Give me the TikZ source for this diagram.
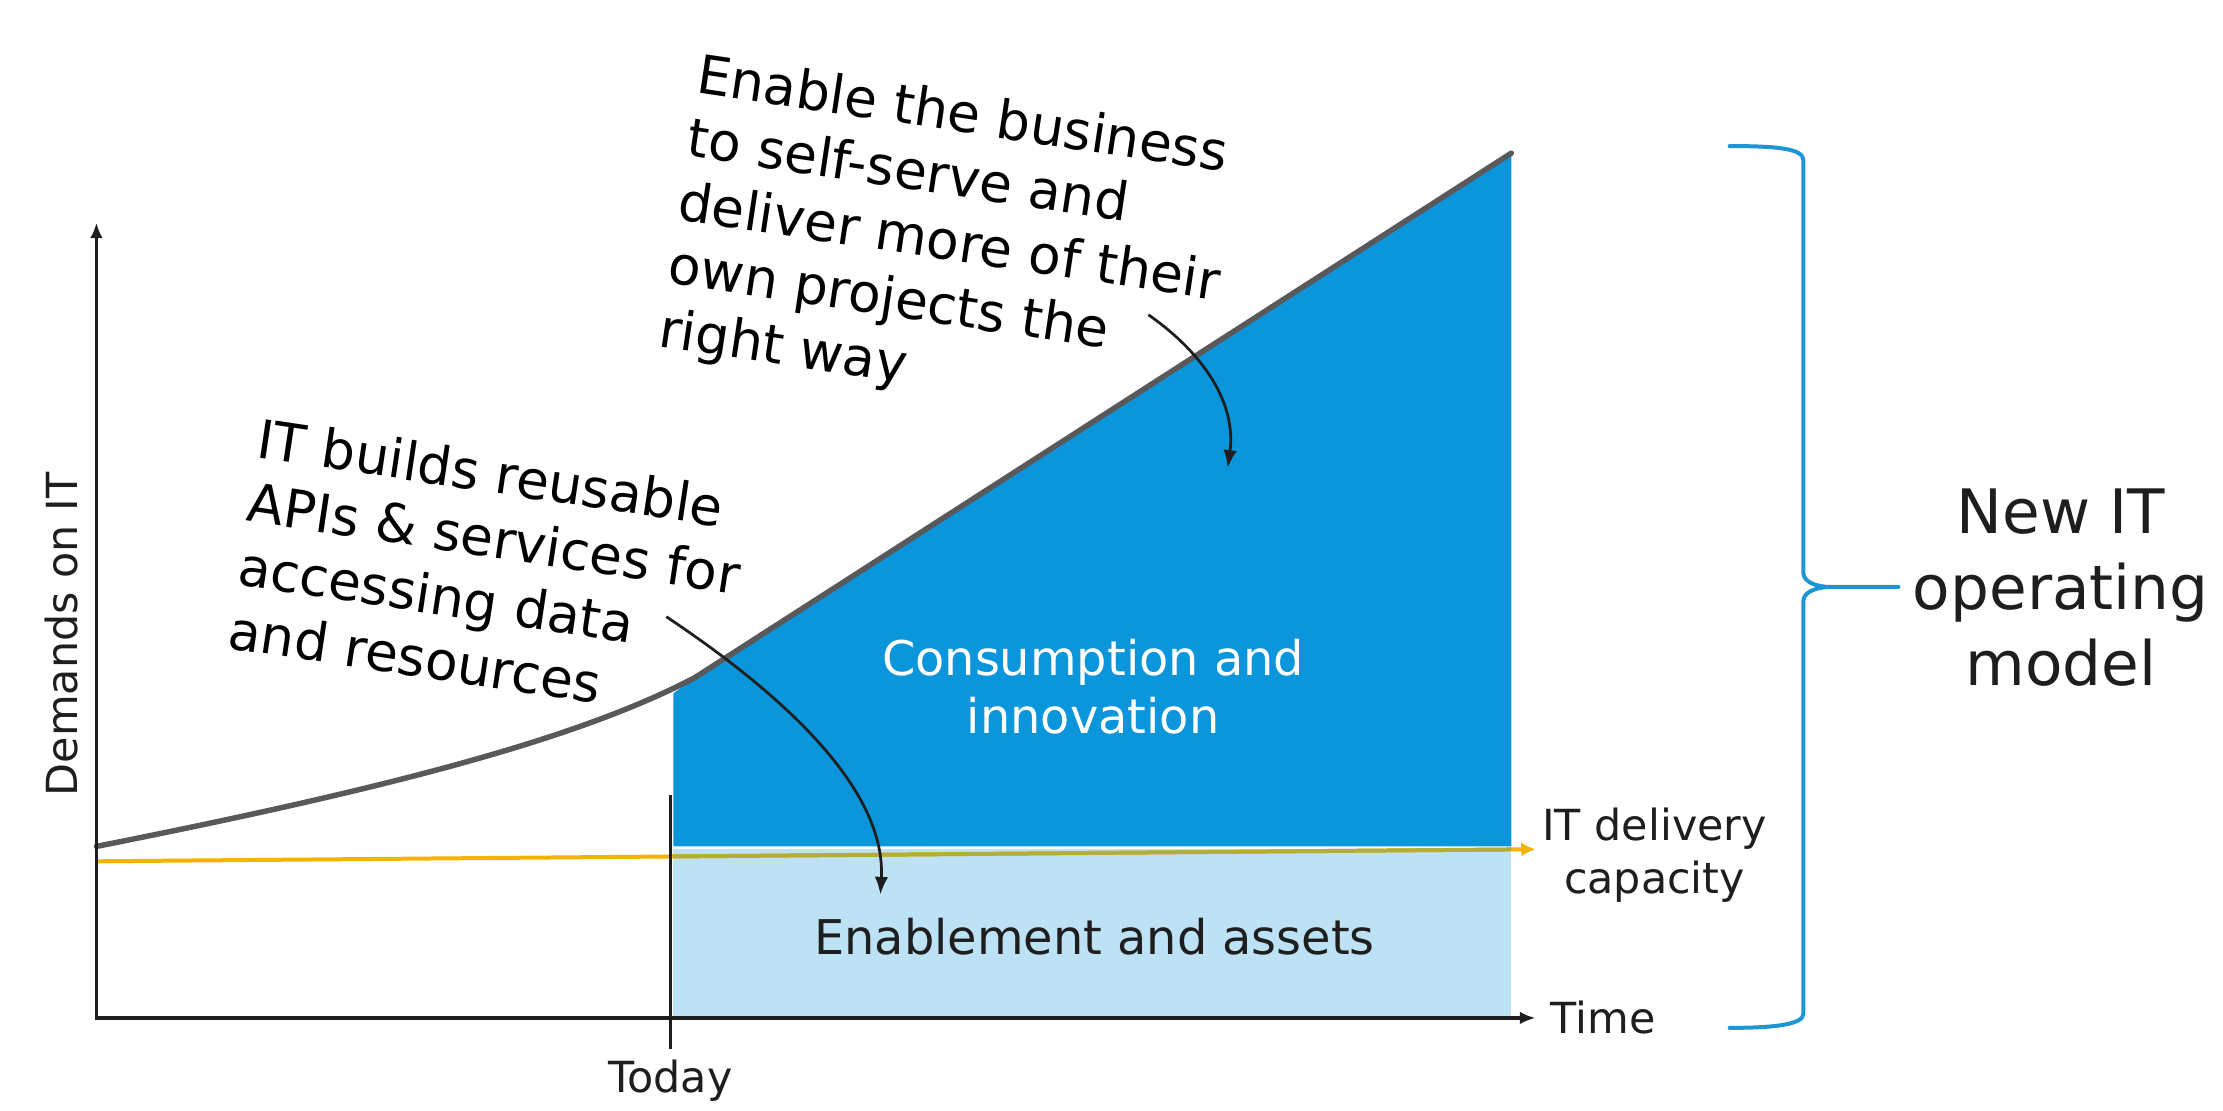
\documentclass[tikz,border=0pt]{standalone}
\usepackage{fontspec}
\setmainfont{DejaVu Sans}
\usepackage{tikz}
\usetikzlibrary{arrows.meta,positioning}
\definecolor{Azul}{HTML}{0B95DA}
\definecolor{AzulClaro}{HTML}{BDE2F5}
\definecolor{AzulLlave}{HTML}{1E96D6}
\definecolor{Amarillo}{HTML}{F3B300}
\definecolor{Oliva}{HTML}{B3AD3A}
\definecolor{GrisCurva}{HTML}{59595B}
\definecolor{Tinta}{HTML}{1E1E1E}

\begin{document}
\begin{tikzpicture}[
  x=0.1mm, y=-0.1mm,
  etiqueta/.style={text=Tinta,inner sep=0pt,align=center,
    font=\fontsize{8.6}{10.7}\selectfont},
  zona/.style={inner sep=0pt,align=center,font=\fontsize{9.6}{11.6}\selectfont},
  nota/.style={text=black,inner sep=0pt,align=left,rotate=-8.5,anchor=north west,
    font=\fontsize{10.7}{12.9}\selectfont},
  eje/.style={line width=0.7pt,Tinta},
  flecha/.style={-{Latex[length=1.25mm,width=0.95mm]},line width=0.55pt,Tinta},
  llave/.style={AzulLlave,line width=0.8pt,line cap=round,line join=round}
]
  \useasboundingbox (0,0) rectangle (1568,783);

  % Areas under the demand curve, right of today.
  \fill[AzulClaro] (475,599) rectangle (1066,718);
  \fill[Azul] (475,597) -- (475,489) -- (490,478) -- (1066,108) -- (1066,597) -- cycle;

  % Demand curve.
  \draw[GrisCurva,line width=1.1pt,line cap=round]
    (68,597) .. controls (280,555) and (410,520) .. (490,478) -- (1066,108);

  % IT delivery capacity, olive where it crosses the blue areas.
  \coordinate (capIni) at (68,607.5);
  \coordinate (capFin) at (1083,599);
  \draw[Amarillo,line width=0.8pt,-{Latex[length=1mm,width=1mm]}] (capIni) -- (capFin);
  \begin{scope}
    \clip (475,590) rectangle (1066,612);
    \draw[Oliva,line width=0.8pt] (capIni) -- (capFin);
  \end{scope}

  % Axes and today mark.
  \coordinate (origen) at (68,718);
  \coordinate (ytope) at (68,157);
  \coordinate (xfin) at (1083,718);
  \draw[eje,{Latex[length=1.1mm,width=0.9mm]}-{Latex[length=1.1mm,width=0.9mm]}]
    (ytope) -- (origen) -- (xfin);
  \coordinate (hoyA) at (473,561);
  \coordinate (hoyB) at (473,740);
  \draw[eje] (hoyA) -- (hoyB);

  \node[etiqueta,rotate=90] (demanda) at (43.5,447.5) {Demands on IT};
  \node[etiqueta,below=0.7mm of hoyB] (hoy) {Today};
  \node[etiqueta,right=1mm of xfin] (tiempo) {Time};
  \node[etiqueta] (capacidad) at (1167,603) {IT delivery\\capacity};

  \node[zona,text=white] (consumo) at (771,484.5) {Consumption and\\innovation};
  \node[zona,text=Tinta] (habilitar) at (772,661) {Enablement and assets};

  % Annotations pointing into the two areas.
  \node[nota] (notaApi) at (183.6,293.5)
    {IT builds reusable\\APIs \& services for\\accessing data\\and resources};
  \node[nota] (notaNegocio) at (494,36)
    {Enable the business\\to self-serve and\\deliver more of their\\own projects the\\right way};
  \coordinate (apiIni) at (470,435);
  \coordinate (apiFin) at (621,631);
  \draw[flecha] (apiIni) .. controls (560,495) and (625,560) .. (apiFin);
  \coordinate (negIni) at (810,222);
  \coordinate (negFin) at (866,330);
  \draw[flecha] (negIni) .. controls (850,250) and (872,285) .. (negFin);

  % Brace and operating model label.
  \draw[llave]
    (1220,103) .. controls (1255,103) and (1272,105) .. (1272,113) -- (1272,404)
    .. controls (1272,410) and (1280,414) .. (1292,414) -- (1339,414)
    (1292,414) .. controls (1280,414) and (1272,418) .. (1272,424) -- (1272,715)
    .. controls (1272,722) and (1255,725) .. (1220,725);
  \node[text=Tinta,inner sep=0pt,align=center,font=\fontsize{12.3}{15.3}\selectfont]
    (modelo) at (1453.6,414.5) {New IT\\operating\\model};
\end{tikzpicture}
\end{document}
